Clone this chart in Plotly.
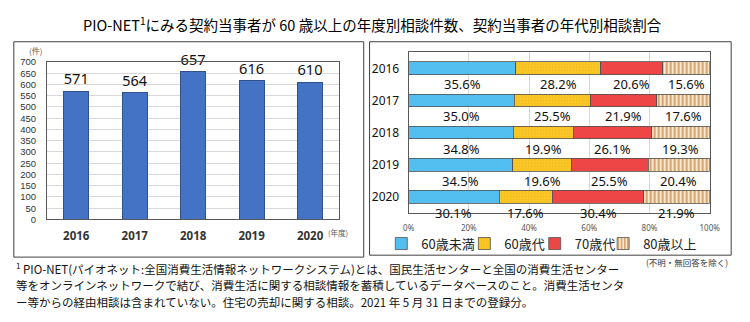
import plotly.graph_objects as go

# ---- data ----
years = ["2016", "2017", "2018", "2019", "2020"]
counts = [571, 564, 657, 616, 610]

age_groups = ["60歳未満", "60歳代", "70歳代", "80歳以上"]
share_under60 = [35.6, 35.0, 34.8, 34.5, 30.1]
share_60s = [28.2, 25.5, 19.9, 19.6, 17.6]
share_70s = [20.6, 21.9, 26.1, 25.5, 30.4]
share_80plus = [15.6, 17.6, 19.3, 20.4, 21.9]

y_ticks = list(range(0, 701, 50))
x_pct_ticks = [0, 20, 40, 60, 80, 100]
x_pct_labels = ["0%", "20%", "40%", "60%", "80%", "100%"]

title_text = "PIO-NET<sup>1</sup>にみる契約当事者が 60 歳以上の年度別相談件数、契約当事者の年代別相談割合"
note_lines = [
    "<sup>1</sup> PIO-NET(パイオネット:全国消費生活情報ネットワークシステム)とは、国民生活センターと全国の消費生活センター",
    "等をオンラインネットワークで結び、消費生活に関する相談情報を蓄積しているデータベースのこと。消費生活センタ",
    "ー等からの経由相談は含まれていない。住宅の売却に関する相談。2021 年 5 月 31 日までの登録分。",
]
excl_note = "(不明・無回答を除く)"

W, H = 750, 322
def px(x): return x / W
def py(y): return 1 - y / H

NUM = "Noto Sans, Noto Sans CJK JP, sans-serif"
CJK = "Noto Sans CJK JP, Noto Sans, sans-serif"

fig = go.Figure()

# ---- left: counts ----
fig.add_trace(go.Bar(
    x=years, y=counts, xaxis="x", yaxis="y",
    marker=dict(color="#4472C4", line=dict(color="#2F528F", width=1)),
    width=0.43,
    text=[str(v) for v in counts], textposition="outside",
    textfont=dict(size=15, color="#111", family=NUM),
    cliponaxis=False, showlegend=False, hoverinfo="skip",
))

# ---- right: shares ----
series = [share_under60, share_60s, share_70s, share_80plus]
colors = ["#52BFF0", "#F6BE14", "#EE4646", "#FBE6C8"]
patterns = [
    dict(shape=""),
    dict(shape=".", fgcolor="#FFE27A", size=3, solidity=0.35),
    dict(shape=""),
    dict(shape="|", fgcolor="#B0621F", bgcolor="#FBE6C8", size=4, solidity=0.5),
]
legend_ids = ["legend", "legend2", "legend3", "legend4"]
for name, vals, col, pat, lg in zip(age_groups, series, colors, patterns, legend_ids):
    fig.add_trace(go.Bar(
        y=years, x=vals, orientation="h", xaxis="x2", yaxis="y2",
        name=name, legend=lg,
        marker=dict(color=col, pattern=pat, line=dict(color="#505050", width=0.8)),
        width=0.4, hoverinfo="skip",
    ))

annotations = []
for i, yr in enumerate(years):
    cum = 0
    for vals in series:
        v = vals[i]
        annotations.append(dict(
            x=cum + v / 2, y=i, xref="x2", yref="y2", text=f"{v:.1f}%",
            showarrow=False, yshift=-16,
            font=dict(size=13, color="#111", family=NUM),
        ))
        cum += v

annotations += [
    dict(x=px(375), y=py(19), xref="paper", yref="paper", text=title_text, showarrow=False,
         font=dict(size=14.5, color="#000", family=CJK), xanchor="center", yanchor="middle"),
    dict(x=px(30), y=py(46), xref="paper", yref="paper", text="(件)", showarrow=False,
         font=dict(size=8, color="#595959", family=CJK), xanchor="center", yanchor="middle"),
    dict(x=px(327), y=py(235), xref="paper", yref="paper", text="(年度)", showarrow=False,
         font=dict(size=7.5, color="#595959", family=CJK), xanchor="left", yanchor="middle"),
    dict(x=px(741), y=py(265), xref="paper", yref="paper", text=excl_note, showarrow=False,
         font=dict(size=8.5, color="#333", family=CJK), xanchor="right", yanchor="middle"),
]
for yy, line in zip([272, 289, 306], note_lines):
    annotations.append(dict(
        x=px(8), y=py(yy), xref="paper", yref="paper", text=line, showarrow=False,
        font=dict(size=11.5, color="#111", family=CJK), xanchor="left", yanchor="middle"))

shapes = [
    dict(type="rect", xref="paper", yref="paper", x0=px(8), x1=px(366), y0=py(37), y1=py(260),
         line=dict(color="#404040", width=1), fillcolor="rgba(0,0,0,0)"),
    dict(type="rect", xref="paper", yref="paper", x0=px(372), x1=px(742), y0=py(37), y1=py(258),
         line=dict(color="#404040", width=1), fillcolor="rgba(0,0,0,0)"),
]

legend_x = [384, 469, 541, 611]
legend_common = dict(orientation="h", xanchor="left", y=py(246), yanchor="middle",
                     font=dict(size=13, color="#222", family=CJK),
                     bgcolor="rgba(0,0,0,0)", itemwidth=30)

fig.update_layout(
    width=W, height=H, margin=dict(l=0, r=0, t=0, b=0),
    paper_bgcolor="white", plot_bgcolor="white",
    barmode="stack",
    font=dict(family=CJK, color="#222"),
    xaxis=dict(domain=[px(42), px(341)], type="category", showline=True, mirror=True,
               linecolor="#595959", linewidth=1, showgrid=False, ticks="",
               tickfont=dict(size=11.5, color="#333", family=NUM, weight="bold"),
               ticklabelstandoff=6),
    yaxis=dict(domain=[py(221), py(58)], range=[0, 700], tickvals=y_ticks, showline=True,
               mirror=True, linecolor="#595959", linewidth=1, showgrid=True,
               gridcolor="#D9D9D9", gridwidth=1, ticks="", zeroline=False,
               tickfont=dict(size=9.5, color="#333", family="Liberation Sans, Arial, sans-serif"),
               ticklabelstandoff=8),
    xaxis2=dict(domain=[px(412), px(720)], anchor="y2", range=[0, 100], autorange=False,
                tickvals=x_pct_ticks, ticktext=x_pct_labels, showline=True, mirror=True,
                linecolor="#595959", linewidth=1,
                showgrid=True, gridcolor="#D9D9D9", zeroline=False, ticks="",
                tickfont=dict(size=8, color="#555", family=NUM), ticklabelstandoff=8),
    yaxis2=dict(domain=[py(214), py(48)], anchor="x2", type="category",
                categoryorder="array", categoryarray=years, range=[4.5, -0.5], autorange=False,
                showline=True, mirror=True, linecolor="#595959", linewidth=1, ticks="",
                tickfont=dict(size=12, color="#111", family=NUM), ticklabelstandoff=6),
    legend=dict(x=px(legend_x[0]), **legend_common),
    legend2=dict(x=px(legend_x[1]), **legend_common),
    legend3=dict(x=px(legend_x[2]), **legend_common),
    legend4=dict(x=px(legend_x[3]), **legend_common),
    annotations=annotations, shapes=shapes,
)

fig.write_html("out.html")
